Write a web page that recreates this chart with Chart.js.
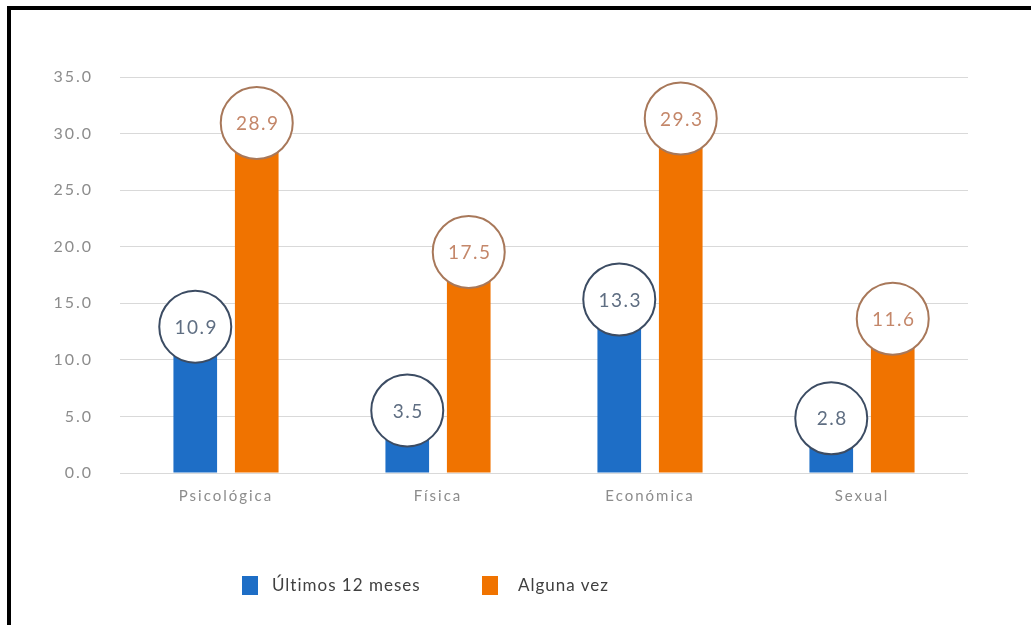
<!DOCTYPE html>
<html lang="es">
<head>
<meta charset="utf-8">
<title>Tipos de violencia</title>
<script src="https://cdn.jsdelivr.net/npm/chart.js@4"></script>
<style>
  html, body { margin: 0; padding: 0; background: #fff; }
  #wrap { position: relative; width: 1031px; height: 625px; overflow: hidden; }
  #frame {
    position: absolute; left: 7px; top: 6px; width: 1100px; height: 700px;
    border-top: 4px solid #000; border-left: 4px solid #000; box-sizing: border-box;
    pointer-events: none;
  }
  canvas { position: absolute; left: 0; top: 0; }
  #legend { position: absolute; left: 0; top: 0; width: 1031px; height: 625px; pointer-events: none;
    font-family: Lato, "Open Sans", sans-serif; font-size: 17px; letter-spacing: 1px; color: #404040; }
  .lg-box { position: absolute; width: 16px; height: 19px; }
  .lg-txt { position: absolute; white-space: nowrap; line-height: 20px; }
</style>
</head>
<body>
<div id="wrap">
  <canvas id="chart" width="1031" height="625"></canvas>
  <div id="frame"></div>
  <div id="legend"></div>
</div>
<script>
// Categories and series values
const categories = ['Psicológica', 'Física', 'Económica', 'Sexual'];
const seriesNames = ['Últimos 12 meses', 'Alguna vez'];
const ultimos12 = [10.9, 3.5, 13.3, 2.8];
const algunaVez = [28.9, 17.5, 29.3, 11.6];
const yTickValues = [0, 5, 10, 15, 20, 25, 30, 35];

const barColors = ['#1E6EC6', '#F07300'];
const ringColors = ['#3C4C63', '#A8785A'];
const ringText = ['#5F6E82', '#C4876A'];
const FONT = 'Lato, "Open Sans", sans-serif';

// Wider tracking for the axis text
const axisSpacing = {
  id: 'axisSpacing',
  beforeUpdate(chart) { chart.ctx.letterSpacing = '2px'; },
  beforeDraw(chart) { chart.ctx.letterSpacing = '2px'; }
};

// Round value callouts drawn on top of each bar
const circleLabels = {
  id: 'circleLabels',
  afterDatasetsDraw(chart) {
    const ctx = chart.ctx;
    chart.data.datasets.forEach((ds, di) => {
      const meta = chart.getDatasetMeta(di);
      meta.data.forEach((bar, i) => {
        const cx = bar.x;
        const cy = bar.y - 23;
        ctx.save();
        ctx.beginPath();
        ctx.arc(cx, cy, 36, 0, Math.PI * 2);
        ctx.fillStyle = '#ffffff';
        ctx.fill();
        ctx.lineWidth = 2;
        ctx.strokeStyle = ringColors[di];
        ctx.stroke();
        ctx.letterSpacing = '1.5px';
        ctx.fillStyle = ringText[di];
        ctx.font = '19px ' + FONT;
        ctx.textAlign = 'center';
        ctx.textBaseline = 'middle';
        ctx.fillText(ds.data[i].toFixed(1), cx + 1, cy + 1);
        ctx.restore();
      });
    });
  }
};

const chart = new Chart(document.getElementById('chart'), {
  type: 'bar',
  data: {
    labels: categories,
    datasets: [
      { label: seriesNames[0], data: ultimos12, backgroundColor: barColors[0],
        categoryPercentage: 0.58, barPercentage: 0.71 },
      { label: seriesNames[1], data: algunaVez, backgroundColor: barColors[1],
        categoryPercentage: 0.58, barPercentage: 0.71 }
    ]
  },
  options: {
    responsive: false,
    animation: false,
    events: [],
    layout: { padding: { left: 0, right: 63, top: 77, bottom: 112 } },
    plugins: {
      legend: { display: false },
      tooltip: { enabled: false }
    },
    scales: {
      x: {
        grid: { display: false },
        border: { display: false },
        ticks: {
          color: '#8C8C8C',
          font: { family: FONT, size: 15 },
          padding: 6
        },
        afterFit(scale) { scale.height = 40; }
      },
      y: {
        min: 0,
        max: 35,
        afterBuildTicks(scale) { scale.ticks = yTickValues.map(v => ({ value: v })); },
        grid: { color: '#D9D9D9', lineWidth: 1, drawTicks: false },
        border: { display: false },
        ticks: {
          color: '#8C8C8C',
          font: { family: FONT, size: 16 },
          padding: 27,
          callback: v => Number(v).toFixed(1)
        },
        afterFit(scale) { scale.width = 120; }
      }
    }
  },
  plugins: [axisSpacing, circleLabels]
});

// Legend built from the chart's own datasets
const legendEl = document.getElementById('legend');
const legendSlots = [{ box: 242, text: 272 }, { box: 482, text: 518 }];
chart.data.datasets.forEach((ds, i) => {
  const box = document.createElement('div');
  box.className = 'lg-box';
  box.style.left = legendSlots[i].box + 'px';
  box.style.top = '576px';
  box.style.background = ds.backgroundColor;
  const txt = document.createElement('div');
  txt.className = 'lg-txt';
  txt.style.left = legendSlots[i].text + 'px';
  txt.style.top = '575px';
  txt.textContent = ds.label;
  legendEl.appendChild(box);
  legendEl.appendChild(txt);
});
</script>
</body>
</html>
